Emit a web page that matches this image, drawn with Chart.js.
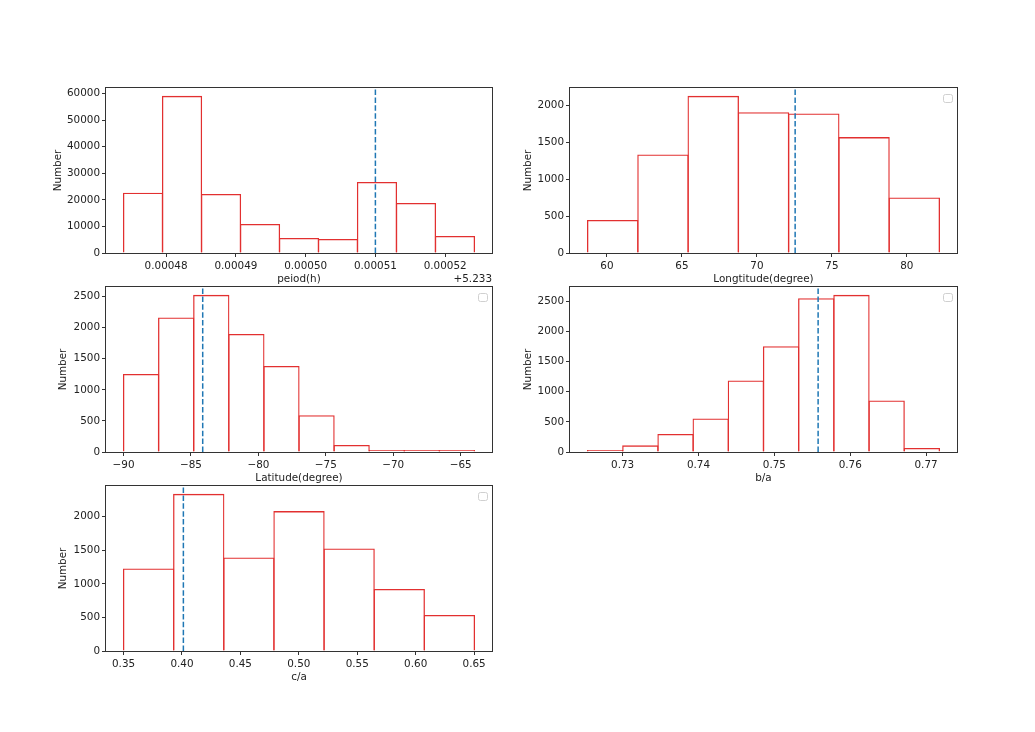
<!DOCTYPE html>
<html>
<head>
<meta charset="utf-8">
<script src="https://cdn.jsdelivr.net/npm/chart.js@4.4.1/dist/chart.umd.min.js"></script>
<style>
  body { margin: 0; background: #fff; }
  #fig { position: relative; width: 1035px; height: 732px; overflow: hidden; }
  #fig canvas { position: absolute; }
</style>
</head>
<body>
<div id="fig"></div>
<script>
// period is shown as offset from 5.233 (like matplotlib's axis offset)
const periodOffset = 5.233;
const periodCounts = [22700, 59100, 22200, 10900, 5650, 5270, 26700, 18800, 6400];
const periodRange = [0.0004739, 0.0005242];
const periodMean = 0.00051;
const periodTicks = [0.00048, 0.00049, 0.00050, 0.00051, 0.00052];
const periodYTicks = [0, 10000, 20000, 30000, 40000, 50000, 60000];

const lonCounts = [446, 1333, 2126, 1905, 1887, 1568, 752];
const lonRange = [58.71, 82.17];
const lonMean = 72.55;
const lonTicks = [60, 65, 70, 75, 80];
const lonYTicks = [0, 500, 1000, 1500, 2000];

const latCounts = [1255, 2162, 2527, 1899, 1384, 590, 113, 15, 10, 8];
const latRange = [-90, -63.98];
const latMean = -84.13;
const latTicks = [-90, -85, -80, -75, -70, -65];
const latYTicks = [0, 500, 1000, 1500, 2000, 2500];

const baCounts = [15, 110, 298, 557, 1187, 1755, 2550, 2605, 855, 66];
const baRange = [0.72538, 0.77176];
const baMean = 0.75577;
const baTicks = [0.73, 0.74, 0.75, 0.76, 0.77];
const baYTicks = [0, 500, 1000, 1500, 2000, 2500];

const caCounts = [1230, 2341, 1393, 2084, 1526, 923, 538];
const caRange = [0.35, 0.6503];
const caMean = 0.4012;
const caTicks = [0.35, 0.40, 0.45, 0.50, 0.55, 0.60, 0.65];
const caYTicks = [0, 500, 1000, 1500, 2000];

const FONT = "'DejaVu Sans', sans-serif";
const TXT = '#222';
const EDGE = '#e23030';

const panels = [
  { counts: periodCounts, range: periodRange, mean: periodMean, ticks: periodTicks, yTicks: periodYTicks,
    xLabel: 'peiod(h)', fmt: v => v.toFixed(5), box: [106, 88, 386, 165], yw: 54, legend: false,
    offsetText: '+' + periodOffset },
  { counts: lonCounts, range: lonRange, mean: lonMean, ticks: lonTicks, yTicks: lonYTicks,
    xLabel: 'Longtitude(degree)', fmt: v => String(v), box: [570, 88, 387, 165], yw: 48, legend: true },
  { counts: latCounts, range: latRange, mean: latMean, ticks: latTicks, yTicks: latYTicks,
    xLabel: 'Latitude(degree)', fmt: v => (v < 0 ? '\u2212' : '') + Math.abs(v), box: [106, 287, 386, 165], yw: 49, legend: true },
  { counts: baCounts, range: baRange, mean: baMean, ticks: baTicks, yTicks: baYTicks,
    xLabel: 'b/a', fmt: v => v.toFixed(2), box: [570, 287, 387, 165], yw: 48, legend: true },
  { counts: caCounts, range: caRange, mean: caMean, ticks: caTicks, yTicks: caYTicks,
    xLabel: 'c/a', fmt: v => v.toFixed(2), box: [106, 486, 386, 165], yw: 49, legend: true },
];

// frame, empty legend box and offset text
const axesDeco = {
  id: 'axesDeco',
  afterDraw(chart, args, opts) {
    const { ctx, chartArea: a } = chart;
    ctx.save();
    ctx.strokeStyle = '#333';
    ctx.lineWidth = 1;
    ctx.strokeRect(Math.round(a.left) - 0.5, Math.round(a.top) - 0.5,
      Math.round(a.right - a.left) + 1, Math.round(a.bottom - a.top) + 1);
    if (opts.legend) {
      ctx.strokeStyle = '#d0d0d0';
      ctx.beginPath();
      ctx.roundRect(a.right - 13.5, a.top + 6.5, 9, 8, 2);
      ctx.stroke();
    }
    if (opts.offsetText) {
      ctx.fillStyle = TXT;
      ctx.font = '10.4px ' + FONT;
      ctx.textAlign = 'right';
      ctx.textBaseline = 'middle';
      ctx.fillText(opts.offsetText, a.right, a.bottom + 26);
    }
    ctx.restore();
  }
};

const fig = document.getElementById('fig');

panels.forEach(p => {
  const [axL, axT, axW, axH] = p.box;
  const padTop = 10, padRight = 10, xh = 33;
  const cv = document.createElement('canvas');
  const cw = p.yw + axW + padRight, ch = padTop + axH + xh;
  cv.width = cw; cv.height = ch;
  cv.style.left = (axL - p.yw) + 'px';
  cv.style.top = (axT - padTop) + 'px';
  cv.style.width = cw + 'px';
  cv.style.height = ch + 'px';
  fig.appendChild(cv);

  const binW = (p.range[1] - p.range[0]) / p.counts.length;
  const bars = p.counts.map((c, i) => ({ x: p.range[0] + binW * (i + 0.5), y: c }));
  const span = p.range[1] - p.range[0];
  const xMin = p.range[0] - span * 0.05, xMax = p.range[1] + span * 0.05;
  const yMax = Math.max(...p.counts) * 1.05;
  // widen each bar slightly so neighbouring edges overlap as in matplotlib
  const binPx = axW * binW / (xMax - xMin);
  const barPct = (binPx + 1.2) / binPx;

  new Chart(cv.getContext('2d'), {
    type: 'bar',
    data: {
      datasets: [
        {
          data: bars,
          backgroundColor: 'rgba(0,0,0,0)',
          borderColor: EDGE,
          borderWidth: 1.3,
          barPercentage: barPct,
          categoryPercentage: 1,
          minBarLength: 2,
          order: 1
        },
        {
          type: 'line',
          data: [{ x: p.mean, y: 0 }, { x: p.mean, y: yMax }],
          borderColor: '#1f77b4',
          borderWidth: 1.5,
          borderDash: [5.5, 2.4],
          pointRadius: 0,
          order: 0
        }
      ]
    },
    options: {
      responsive: false,
      animation: false,
      layout: { padding: { top: padTop, right: padRight, left: 0, bottom: 0 } },
      scales: {
        x: {
          type: 'linear',
          min: xMin, max: xMax,
          offset: false,
          afterFit: s => { s.height = xh; },
          afterBuildTicks: s => { s.ticks = p.ticks.map(v => ({ value: v })); },
          grid: { display: true, drawOnChartArea: false, drawTicks: true, tickLength: 4, color: '#333', offset: false },
          border: { display: false },
          ticks: {
            color: TXT, padding: 3, maxRotation: 0,
            font: { size: 10.4, family: FONT },
            callback: v => p.fmt(v)
          },
          title: {
            display: true, text: p.xLabel, color: TXT, padding: 0,
            font: { size: 10.4, family: FONT }
          }
        },
        y: {
          min: 0, max: yMax,
          afterFit: s => { s.width = p.yw; },
          afterBuildTicks: s => { s.ticks = p.yTicks.map(v => ({ value: v })); },
          grid: { display: true, drawOnChartArea: false, drawTicks: true, tickLength: 4, color: '#333' },
          border: { display: false },
          ticks: {
            color: TXT, padding: 2,
            font: { size: 10.4, family: FONT },
            callback: v => String(v)
          },
          title: {
            display: true, text: 'Number', color: TXT, padding: 0,
            font: { size: 10.4, family: FONT }
          }
        }
      },
      plugins: {
        legend: { display: false },
        tooltip: { enabled: false },
        axesDeco: { legend: p.legend, offsetText: p.offsetText }
      }
    },
    plugins: [axesDeco]
  });
});
</script>
</body>
</html>
